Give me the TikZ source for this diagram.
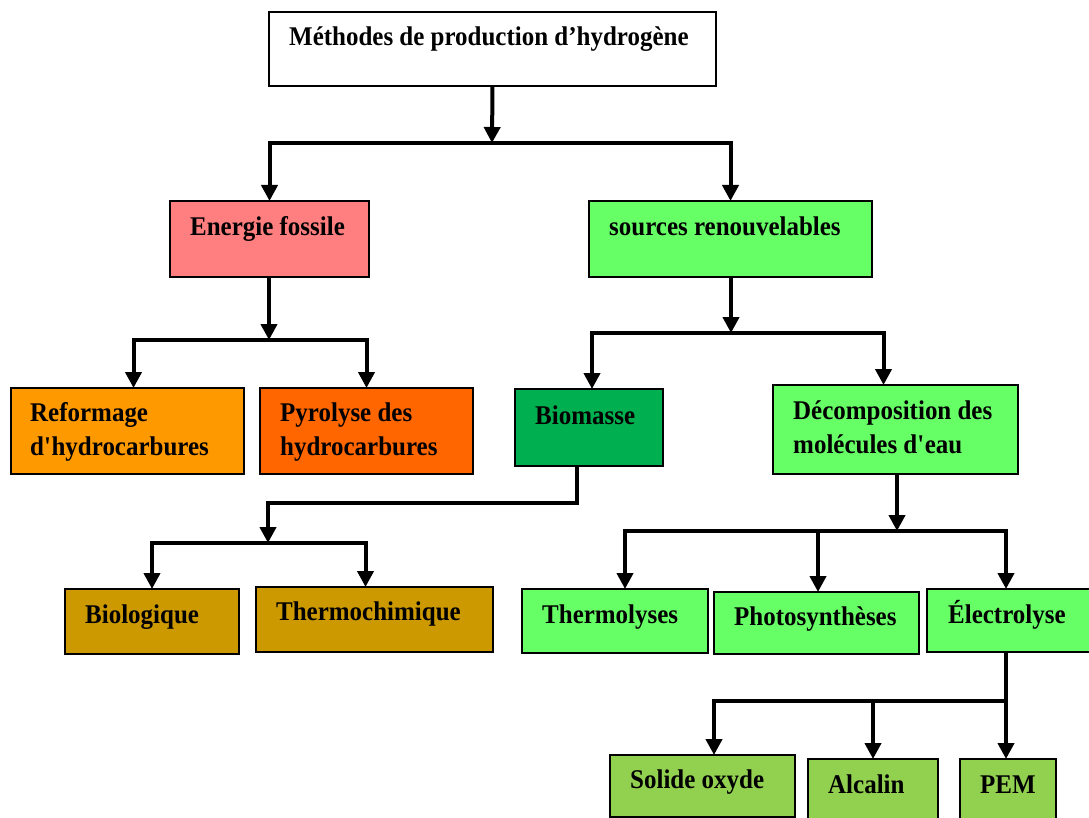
\documentclass[tikz,border=0pt]{standalone}
\usepackage{fontspec}
\setmainfont{Liberation Serif}[FakeStretch=0.925]
\usetikzlibrary{arrows.meta,calc}
\definecolor{cSalmon}{HTML}{FF7F80}
\definecolor{cLight}{HTML}{66FF66}
\definecolor{cOrange}{HTML}{FF9900}
\definecolor{cDarkOrange}{HTML}{FF6600}
\definecolor{cBio}{HTML}{00B050}
\definecolor{cGold}{HTML}{CC9900}
\definecolor{cOlive}{HTML}{92D050}
\newcommand\sq{\textquotesingle}
\begin{document}
\begin{tikzpicture}[x=1pt,y=-1pt,
 box/.style={draw=black,line width=1.6pt,inner sep=0pt,outer sep=0pt,anchor=north west},
 lbl/.style={anchor=base west,inner sep=0pt,font=\fontsize{27}{34}\selectfont\bfseries,align=left},
 conn/.style={line width=4pt},
 arr/.style={conn,-{Triangle[width=16pt,length=16pt]}}]
\useasboundingbox (0,0) rectangle (1089,818);
% boxes
\node[box,fill=white,minimum width=447pt,minimum height=74pt] (top) at (269,12) {};
\node[box,fill=cSalmon,minimum width=199pt,minimum height=76pt] (ef) at (170,201) {};
\node[box,fill=cLight,minimum width=283pt,minimum height=76pt] (sr) at (589,201) {};
\node[box,fill=cOrange,minimum width=233pt,minimum height=86pt] (ref) at (11,388) {};
\node[box,fill=cDarkOrange,minimum width=213pt,minimum height=86pt] (pyr) at (260,388) {};
\node[box,fill=cBio,minimum width=148pt,minimum height=77pt] (bio) at (515,389) {};
\node[box,fill=cLight,minimum width=245pt,minimum height=89pt] (dec) at (773,385) {};
\node[box,fill=cGold,minimum width=174pt,minimum height=65pt] (biol) at (65,589) {};
\node[box,fill=cGold,minimum width=237pt,minimum height=65pt] (thc) at (256,587) {};
\node[box,fill=cLight,minimum width=186pt,minimum height=64pt] (thl) at (522,589) {};
\node[box,fill=cLight,minimum width=205pt,minimum height=62pt] (pho) at (714,592) {};
\node[box,fill=cLight,minimum width=164pt,minimum height=63pt] (ele) at (927,589) {};
\node[box,fill=cOlive,minimum width=185pt,minimum height=62pt] (so) at (610,755) {};
\node[box,fill=cOlive,minimum width=130pt,minimum height=66pt] (alc) at (808,759) {};
\node[box,fill=cOlive,minimum width=96pt,minimum height=66pt] (pem) at (960,759) {};
% labels
\node[lbl] (topt) at ($(top.north west)+(20,34)$) {Méthodes de production d’hydrogène};
\node[lbl] (eft) at ($(ef.north west)+(20,35)$) {Energie fossile};
\node[lbl] (srt) at ($(sr.north west)+(20,35)$) {sources renouvelables};
\node[lbl] (reft) at ($(ref.north west)+(19,67)$) {Reformage\\d\sq hydrocarbures};
\node[lbl] (pyrt) at ($(pyr.north west)+(20,67)$) {Pyrolyse des\\hydrocarbures};
\node[lbl] (biot) at ($(bio.north west)+(20,35)$) {Biomasse};
\node[lbl] (dect) at ($(dec.north west)+(20,68)$) {Décomposition des\\molécules d\sq eau};
\node[lbl] (biolt) at ($(biol.north west)+(20,34)$) {Biologique};
\node[lbl] (thct) at ($(thc.north west)+(20,33)$) {Thermochimique};
\node[lbl] (thlt) at ($(thl.north west)+(20,34)$) {Thermolyses};
\node[lbl] (phot) at ($(pho.north west)+(20,33)$) {Photosynthèses};
\node[lbl] (elet) at ($(ele.north west)+(21,34)$) {Électrolyse};
\node[lbl] (sot) at ($(so.north west)+(20,33)$) {Solide oxyde};
\node[lbl] (alct) at ($(alc.north west)+(20,34)$) {Alcalin};
\node[lbl] (pemt) at ($(pem.north west)+(20,34)$) {PEM};
% junctions
\coordinate (j1) at (492,143);
\coordinate (j2) at (269,340);
\coordinate (j3) at (731,333);
\coordinate (b0) at (577,466);
\coordinate (b1) at (268,503);
\coordinate (j4) at (268,543);
\coordinate (j5) at (897,531);
\coordinate (j6) at (1006,701);
% connectors
\draw[arr] (top.south) -- (j1);
\draw[arr] (j1) -| (ef.north);
\draw[arr] (j1) -| (sr.north);
\draw[arr] (ef.south -| j2) -- (j2);
\draw[arr] (j2) -| ([xshift=6pt]ref.north);
\draw[arr] (j2) -| (pyr.north);
\draw[arr] (sr.south -| j3) -- (j3);
\draw[arr] (j3) -| ([xshift=3pt]bio.north);
\draw[arr] (j3) -| ([xshift=-12pt]dec.north);
\draw[arr] (bio.south -| b0) |- (b1) -- (j4);
\draw[arr] (j4) -| (biol.north);
\draw[arr] (j4) -| ([xshift=-9pt]thc.north);
\draw[arr] (dec.south -| j5) -- (j5);
\draw[arr] (j5) -| ([xshift=10pt]thl.north);
\draw[arr] (j5) -| ([xshift=1.5pt]pho.north);
\draw[arr] (j5) -| (ele.north -| j6);
\draw[arr] (ele.south -| j6) -- (pem.north -| j6);
\draw[arr] (j6) -| ([xshift=11.5pt]so.north);
\draw[arr] (j6) -| (alc.north);
\end{tikzpicture}
\end{document}
